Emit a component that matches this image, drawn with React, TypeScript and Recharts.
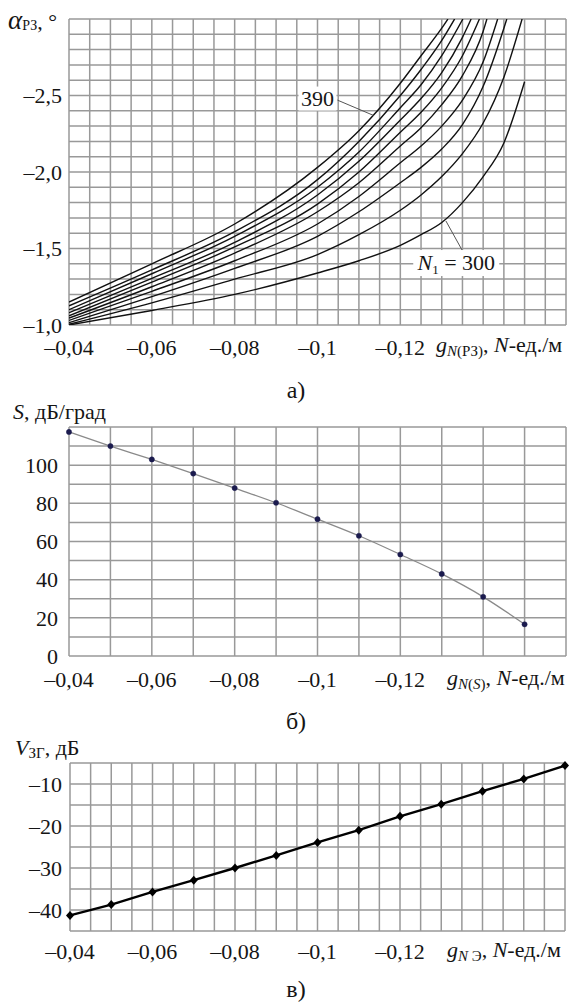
import React from "react";
import {
  LineChart,
  Line,
  XAxis,
  YAxis,
  CartesianGrid,
  ReferenceLine,
  ReferenceDot,
} from "recharts";

// а) alpha_РЗ vs g_N(РЗ), one curve per N1
const n390: [number, number][] = [
  [-0.04, -1.15], [-0.06, -1.4], [-0.08, -1.66], [-0.1, -2.03], [-0.11, -2.27],
  [-0.12, -2.58], [-0.125, -2.76], [-0.13, -2.94], [-0.1315, -3.0],
];
const n380: [number, number][] = [
  [-0.04, -1.125], [-0.06, -1.36], [-0.08, -1.61], [-0.1, -1.95], [-0.11, -2.2],
  [-0.12, -2.5], [-0.125, -2.67], [-0.13, -2.86], [-0.1331, -3.0],
];
const n370: [number, number][] = [
  [-0.04, -1.1], [-0.06, -1.335], [-0.08, -1.58], [-0.1, -1.9], [-0.11, -2.13],
  [-0.12, -2.42], [-0.125, -2.57], [-0.13, -2.76], [-0.1351, -3.0],
];
const n360: [number, number][] = [
  [-0.04, -1.08], [-0.06, -1.305], [-0.08, -1.54], [-0.1, -1.85], [-0.11, -2.07],
  [-0.12, -2.34], [-0.125, -2.48], [-0.13, -2.65], [-0.135, -2.88], [-0.1371, -3.0],
];
const n350: [number, number][] = [
  [-0.04, -1.06], [-0.06, -1.28], [-0.08, -1.51], [-0.1, -1.79], [-0.11, -2.0],
  [-0.12, -2.26], [-0.125, -2.39], [-0.13, -2.55], [-0.135, -2.76], [-0.1391, -3.0],
];
const n340: [number, number][] = [
  [-0.04, -1.045], [-0.06, -1.25], [-0.08, -1.47], [-0.1, -1.74], [-0.11, -1.93],
  [-0.12, -2.17], [-0.125, -2.29], [-0.13, -2.44], [-0.135, -2.63], [-0.14, -2.92],
  [-0.1409, -3.0],
];
const n330: [number, number][] = [
  [-0.04, -1.03], [-0.06, -1.22], [-0.08, -1.42], [-0.1, -1.66], [-0.11, -1.84],
  [-0.12, -2.06], [-0.125, -2.17], [-0.13, -2.3], [-0.135, -2.47], [-0.14, -2.72],
  [-0.1435, -3.0],
];
const n320: [number, number][] = [
  [-0.04, -1.015], [-0.06, -1.185], [-0.08, -1.37], [-0.1, -1.58], [-0.11, -1.74],
  [-0.12, -1.93], [-0.125, -2.03], [-0.13, -2.15], [-0.135, -2.31], [-0.14, -2.56],
  [-0.145, -2.94], [-0.1457, -3.0],
];
const n310: [number, number][] = [
  [-0.04, -1.005], [-0.06, -1.145], [-0.08, -1.3], [-0.1, -1.46], [-0.11, -1.59],
  [-0.12, -1.75], [-0.125, -1.85], [-0.13, -1.97], [-0.135, -2.12], [-0.14, -2.32],
  [-0.145, -2.62], [-0.1494, -3.0],
];
const n300: [number, number][] = [
  [-0.04, -1.0], [-0.06, -1.095], [-0.08, -1.2], [-0.1, -1.34], [-0.11, -1.42],
  [-0.12, -1.52], [-0.125, -1.59], [-0.13, -1.67], [-0.135, -1.8], [-0.14, -1.97],
  [-0.145, -2.19], [-0.15, -2.59],
];
const curvesA = [n390, n380, n370, n360, n350, n340, n330, n320, n310, n300];

// б) S vs g_N(S)
const gS = [-0.04, -0.05, -0.06, -0.07, -0.08, -0.09, -0.1, -0.11, -0.12, -0.13, -0.14, -0.15];
const sValues = [117.4, 110, 103, 95.6, 88, 80.3, 71.7, 63, 53.2, 43, 31, 16.6];

// в) V_ЗГ vs g_NЭ
const gV = [-0.04, -0.05, -0.06, -0.07, -0.08, -0.09, -0.1, -0.11, -0.12, -0.13, -0.14, -0.15, -0.16];
const vValues = [-41.3, -38.7, -35.7, -32.9, -30, -27, -23.9, -21, -17.7, -14.8, -11.7, -8.8, -5.6];

// ticks (grid lines) and the ones that carry labels
const xFine = [
  -0.04, -0.045, -0.05, -0.055, -0.06, -0.065, -0.07, -0.075, -0.08, -0.085, -0.09,
  -0.095, -0.1, -0.105, -0.11, -0.115, -0.12, -0.125, -0.13, -0.135, -0.14, -0.145,
  -0.15, -0.155, -0.16,
];
const xCoarse = [-0.04, -0.05, -0.06, -0.07, -0.08, -0.09, -0.1, -0.11, -0.12, -0.13, -0.14, -0.15, -0.16];
const xLabels = [-0.04, -0.06, -0.08, -0.1, -0.12];
const yTicksA = [
  -1, -1.1, -1.2, -1.3, -1.4, -1.5, -1.6, -1.7, -1.8, -1.9, -2, -2.1, -2.2, -2.3, -2.4,
  -2.5, -2.6, -2.7, -2.8, -2.9, -3,
];
const yLabelsA = [-1, -1.5, -2, -2.5];
const yTicksB = [0, 10, 20, 30, 40, 50, 60, 70, 80, 90, 100, 110, 120];
const yLabelsB = [0, 20, 40, 60, 80, 100];
const yTicksC = [-45, -40, -35, -30, -25, -20, -15, -10, -5];
const yLabelsC = [-40, -30, -20, -10];

const FONT = "Liberation Serif, DejaVu Serif, serif";
const GRID = "#999";
const tickStyle = { fontFamily: FONT, fontSize: 22, fill: "#151515", style: { fontFamily: FONT } };

const has = (list: number[], v: number) => list.some((t) => Math.abs(t - v) < 1e-9);
const fmtX = (v: number) => (has(xLabels, v) ? "\u2013" + String(Math.abs(v)).replace(".", ",") : "");
const fmtA = (v: number) => (has(yLabelsA, v) ? "\u2013" + Math.abs(v).toFixed(1).replace(".", ",") : "");
const fmtB = (v: number) => (has(yLabelsB, v) ? String(v) : "");
const fmtC = (v: number) => (has(yLabelsC, v) ? "\u2013" + Math.abs(v) : "");

function Tag({ viewBox, w, h, kind }: any) {
  const cx = viewBox.x + viewBox.width / 2;
  const cy = viewBox.y + viewBox.height / 2;
  return (
    <g>
      <rect x={cx - w / 2} y={cy - h / 2} width={w} height={h} fill="#fff" />
      <text
        x={cx}
        y={cy + 7}
        textAnchor="middle"
        fontSize={22}
        fill="#151515"
        style={{ fontFamily: FONT }}
      >
        {kind === "n300" ? (
          <>
            <tspan fontStyle="italic">N</tspan>
            <tspan fontSize={13} dy={4}>1</tspan>
            <tspan dy={-4}>{" = 300"}</tspan>
          </>
        ) : (
          "390"
        )}
      </text>
    </g>
  );
}

function Diamond(props: any) {
  const { cx, cy, index } = props;
  return (
    <polygon
      key={"d" + index}
      points={`${cx},${cy - 4.5} ${cx + 4},${cy} ${cx},${cy + 4.5} ${cx - 4},${cy}`}
      fill="#000"
    />
  );
}

function ChartA() {
  return (
    <LineChart width={585} height={370} margin={{ top: 19, right: 19, bottom: 0, left: 0 }}>
      <CartesianGrid stroke={GRID} strokeWidth={1.5} />
      <XAxis
        type="number"
        dataKey="x"
        domain={[-0.16, -0.04]}
        reversed
        ticks={xFine}
        interval={0}
        tickFormatter={fmtX}
        tickLine={false}
        axisLine={false}
        tickSize={0}
        tickMargin={14}
        height={45}
        tick={tickStyle}
        allowDataOverflow
      />
      <YAxis
        type="number"
        dataKey="y"
        domain={[-3, -1]}
        reversed
        ticks={yTicksA}
        interval={0}
        tickFormatter={fmtA}
        tickLine={false}
        axisLine={false}
        tickSize={0}
        tickMargin={7}
        width={69}
        tick={tickStyle}
        allowDataOverflow
      />
      {curvesA.map((pts, i) => (
        <Line
          key={i}
          data={pts.map(([x, y]) => ({ x, y }))}
          dataKey="y"
          type="monotone"
          stroke="#111"
          strokeWidth={1.4}
          dot={false}
          isAnimationActive={false}
        />
      ))}
      <ReferenceLine
        segment={[{ x: -0.1048, y: -2.47 }, { x: -0.1135, y: -2.37 }]}
        stroke="#555"
        strokeWidth={1}
      />
      <ReferenceLine
        segment={[{ x: -0.1349, y: -1.49 }, { x: -0.131, y: -1.68 }]}
        stroke="#555"
        strokeWidth={1}
      />
      <ReferenceDot
        x={-0.1}
        y={-2.48}
        r={0}
        fill="none"
        stroke="none"
        label={(p: any) => <Tag viewBox={p.viewBox} w={38} h={24} kind="n390" />}
      />
      <ReferenceDot
        x={-0.1335}
        y={-1.405}
        r={0}
        fill="none"
        stroke="none"
        label={(p: any) => <Tag viewBox={p.viewBox} w={86} h={26} kind="n300" />}
      />
    </LineChart>
  );
}

function ChartB() {
  const data = gS.map((x, i) => ({ x, s: sValues[i] }));
  return (
    <LineChart width={585} height={300} data={data} margin={{ top: 27, right: 19, bottom: 0, left: 0 }}>
      <CartesianGrid stroke={GRID} strokeWidth={1.5} />
      <XAxis
        type="number"
        dataKey="x"
        domain={[-0.16, -0.04]}
        reversed
        ticks={xCoarse}
        interval={0}
        tickFormatter={fmtX}
        tickLine={false}
        axisLine={false}
        tickSize={0}
        tickMargin={15}
        height={44}
        tick={tickStyle}
      />
      <YAxis
        type="number"
        domain={[0, 120]}
        ticks={yTicksB}
        interval={0}
        tickFormatter={fmtB}
        tickLine={false}
        axisLine={false}
        tickSize={0}
        tickMargin={11}
        width={69}
        tick={tickStyle}
      />
      <Line
        dataKey="s"
        type="monotone"
        stroke="#8a8a8a"
        strokeWidth={1.3}
        dot={{ r: 2.6, fill: "#1b1b4e", stroke: "#1b1b4e", strokeWidth: 0.5 }}
        isAnimationActive={false}
      />
    </LineChart>
  );
}

function ChartC() {
  const data = gV.map((x, i) => ({ x, v: vValues[i] }));
  return (
    <LineChart width={585} height={240} data={data} margin={{ top: 23, right: 20, bottom: 0, left: 0 }}>
      <CartesianGrid stroke={GRID} strokeWidth={1.5} />
      <XAxis
        type="number"
        dataKey="x"
        domain={[-0.16, -0.04]}
        reversed
        ticks={xFine}
        interval={0}
        tickFormatter={fmtX}
        tickLine={false}
        axisLine={false}
        tickSize={0}
        tickMargin={12}
        height={49}
        tick={tickStyle}
      />
      <YAxis
        type="number"
        domain={[-45, -5]}
        ticks={yTicksC}
        interval={0}
        tickFormatter={fmtC}
        tickLine={false}
        axisLine={false}
        tickSize={0}
        tickMargin={8}
        width={70}
        tick={tickStyle}
      />
      <Line
        dataKey="v"
        type="linear"
        stroke="#000"
        strokeWidth={2.4}
        dot={Diamond}
        isAnimationActive={false}
      />
    </LineChart>
  );
}

export default function App() {
  return (
    <div
      style={{
        position: "absolute",
        left: 0,
        top: 0,
        width: 585,
        height: 1003,
        background: "#fff",
        overflow: "hidden",
        fontFamily: FONT,
      }}
    >
      <div style={{ position: "absolute", left: 0, top: 0 }}>
        <ChartA />
      </div>
      <div style={{ position: "absolute", left: 0, top: 400 }}>
        <ChartB />
      </div>
      <div style={{ position: "absolute", left: 0, top: 740 }}>
        <ChartC />
      </div>
      <svg
        width={585}
        height={1003}
        style={{ position: "absolute", left: 0, top: 0, pointerEvents: "none", fontFamily: FONT }}
        fontSize={22}
        fill="#151515"
      >
        <text x={8} y={29}>
          <tspan fontStyle="italic" fontSize={27}>α</tspan>
          <tspan fontSize={14} dy={1}>РЗ</tspan>
          <tspan dy={-1}>, °</tspan>
        </text>
        <text x={436} y={352}>
          <tspan fontStyle="italic">g</tspan>
          <tspan fontStyle="italic" fontSize={15} dy={4}>N</tspan>
          <tspan fontSize={15}>(РЗ)</tspan>
          <tspan dy={-4}>, </tspan>
          <tspan fontStyle="italic">N</tspan>
          <tspan>-ед./м</tspan>
        </text>
        <text x={296} y={398} textAnchor="middle" fontSize={24}>а)</text>

        <text x={13} y={419}>
          <tspan fontStyle="italic">S</tspan>
          <tspan>, дБ/град</tspan>
        </text>
        <text x={447} y={685}>
          <tspan fontStyle="italic">g</tspan>
          <tspan fontStyle="italic" fontSize={15} dy={4}>N</tspan>
          <tspan fontSize={15}>(</tspan>
          <tspan fontStyle="italic" fontSize={15}>S</tspan>
          <tspan fontSize={15}>)</tspan>
          <tspan dy={-4}>, </tspan>
          <tspan fontStyle="italic">N</tspan>
          <tspan>-ед./м</tspan>
        </text>
        <text x={296} y={729} textAnchor="middle" fontSize={24}>б)</text>

        <text x={15} y={755}>
          <tspan fontStyle="italic">V</tspan>
          <tspan fontSize={15} dy={3}>ЗГ</tspan>
          <tspan dy={-3}>, дБ</tspan>
        </text>
        <text x={447} y={957}>
          <tspan fontStyle="italic">g</tspan>
          <tspan fontStyle="italic" fontSize={15} dy={4}>N</tspan>
          <tspan fontSize={15}>{" Э"}</tspan>
          <tspan dy={-4}>, </tspan>
          <tspan fontStyle="italic">N</tspan>
          <tspan>-ед./м</tspan>
        </text>
        <text x={296} y={997} textAnchor="middle" fontSize={24}>в)</text>
      </svg>
    </div>
  );
}
